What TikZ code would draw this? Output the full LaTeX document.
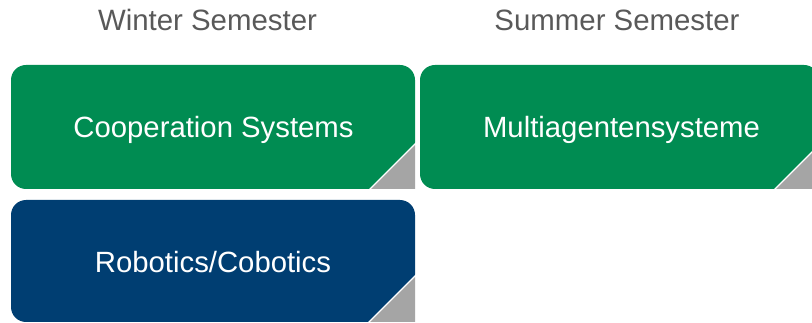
\documentclass[tikz,border=0pt]{standalone}
\usepackage{fontspec}
\setmainfont{Liberation Sans}
\definecolor{boxgreen}{RGB}{0,140,82}
\definecolor{boxblue}{RGB}{0,62,114}
\definecolor{foldgray}{RGB}{165,165,165}
\definecolor{headgray}{RGB}{89,89,89}
\begin{document}
\begin{tikzpicture}[x=1pt,y=-1pt,
  boxtext/.style={text=white,font=\fontsize{29.3}{34}\selectfont,anchor=base,inner sep=0pt},
  headtext/.style={text=headgray,font=\fontsize{29.4}{34}\selectfont,anchor=base,inner sep=0pt},
  fold/.style={fill=foldgray},
  gap/.style={fill=white}]
\useasboundingbox (0,0) rectangle (812,323);
\clip (0,0) rectangle (812,323);
% Cooperation Systems
\fill[boxgreen,rounded corners=15pt] (11,65) rectangle (415,189);
\fill[gap] (367,191) -- (417,191) -- (417,141) -- cycle;
\fill[fold] (371,189) -- (415,189) -- (415,145) -- cycle;
% Multiagentensysteme
\fill[boxgreen,rounded corners=15pt] (420,65) rectangle (819,189);
\fill[gap] (772,191) -- (821,191) -- (821,142) -- cycle;
\fill[fold] (776,189) -- (819,189) -- (819,146) -- cycle;
% Robotics/Cobotics
\fill[boxblue,rounded corners=15pt] (11,200) rectangle (415,322);
\fill[gap] (366,324) -- (417,324) -- (417,273) -- cycle;
\fill[fold] (370,322) -- (415,322) -- (415,277) -- cycle;
% texts
\node[headtext] (winter) at (207.5,31) {Winter Semester};
\node[headtext] (summer) at (617,31) {Summer Semester};
\node[boxtext] (coop) at (213.5,138) {Cooperation Systems};
\node[boxtext] (mas) at (621.5,138) {Multiagentensysteme};
\node[boxtext] (robo) at (213,273) {Robotics/Cobotics};
\end{tikzpicture}
\end{document}
